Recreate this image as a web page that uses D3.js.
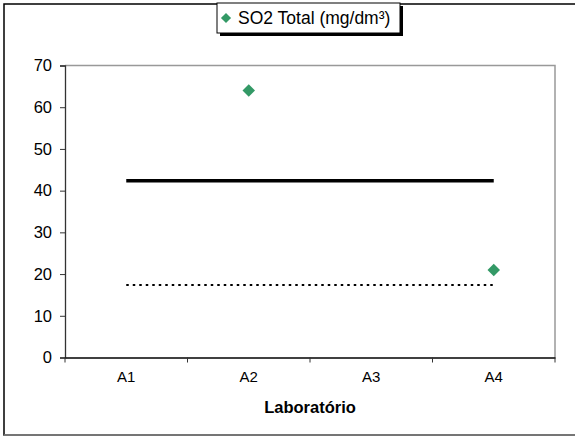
<!DOCTYPE html>
<html><head><meta charset="utf-8">
<script src="https://cdn.jsdelivr.net/npm/d3@7"></script>
<style>body{margin:0;background:#fff}svg{display:block;font-family:"Liberation Sans",Arial,sans-serif}</style>
</head><body><svg id="c" width="575" height="436"></svg>
<script>
const categories = ["A1","A2","A3","A4"];
const so2Values = [null, 64.0, null, 21.0];
const upperLimit = [42.4, 42.4, 42.4, 42.4];
const lowerLimit = [17.4, 17.4, 17.4, 17.4];
const yTicks = [0,10,20,30,40,50,60,70];
const seriesName = "SO2 Total (mg/dm³)";
const xTitle = "Laboratório";

const FF = "Liberation Sans, Arial, sans-serif";
const svg = d3.select("#c");
const L = 65, R = 555, T = 65.5, B = 357.5;
// outer frame
svg.append("rect").attr("x",4).attr("y",4).attr("width",600).attr("height",431)
  .attr("fill","#fff").attr("stroke","#000").attr("stroke-width",1.5);
svg.append("line").attr("x1",4).attr("x2",600).attr("y1",435).attr("y2",435).attr("stroke","#888").attr("stroke-width",1.5);

const x = d3.scaleBand().domain(categories).range([L,R]);
const y = d3.scaleLinear().domain([0,70]).range([B,T]);

// plot area border (gray)
svg.append("path").attr("d",`M${L},${T}H${R}V${B}`).attr("fill","none").attr("stroke","#999").attr("stroke-width",1.5);

// y axis
const ya = svg.append("g").attr("transform",`translate(${L},0)`)
  .call(d3.axisLeft(y).tickValues(yTicks).tickSize(5).tickPadding(8));
ya.select(".domain").attr("stroke","#333").attr("stroke-width",1.3);
ya.selectAll(".tick line").attr("stroke","#333");
ya.selectAll("text").attr("font-size",16.5).attr("fill","#000").attr("font-family",FF);

// x axis
const xa = svg.append("g").attr("transform",`translate(0,${B})`)
  .call(d3.axisBottom(x).tickSize(0).tickPadding(14));
xa.select(".domain").attr("stroke","#000").attr("stroke-width",1.5);
xa.selectAll("text").attr("font-size",15).attr("fill","#000").attr("font-family",FF);
const bounds = categories.map(c=>x(c)).concat([R]);
svg.append("g").selectAll("line").data(bounds).join("line")
  .attr("x1",d=>d).attr("x2",d=>d).attr("y1",B).attr("y2",B+5).attr("stroke","#333");

const cx = c => x(c) + x.bandwidth()/2;
// limit lines
svg.append("path").datum(upperLimit).attr("fill","none").attr("stroke","#000").attr("stroke-width",3.5)
  .attr("d", d3.line().x((d,i)=>cx(categories[i])).y(d=>y(d)));
svg.append("path").datum(lowerLimit).attr("fill","none").attr("stroke","#000").attr("stroke-width",2)
  .attr("stroke-dasharray","2.5,4")
  .attr("d", d3.line().x((d,i)=>cx(categories[i])).y(d=>y(d)));

// points
const sym = d3.symbol().type(d3.symbolDiamond2).size(100);
svg.append("g").selectAll("path").data(so2Values.map((v,i)=>({c:categories[i],v})).filter(d=>d.v!=null))
  .join("path").attr("d",sym).attr("transform",d=>`translate(${cx(d.c)},${y(d.v)})`).attr("fill","#339966");

// x title
svg.append("text").attr("x",(L+R)/2).attr("y",413).attr("text-anchor","middle")
  .attr("font-size",16.5).attr("font-weight","bold").attr("font-family",FF).text(xTitle);

// legend
const lg = svg.append("g");
lg.append("rect").attr("x",220).attr("y",6).attr("width",183).attr("height",30).attr("fill","#000");
lg.append("rect").attr("x",217).attr("y",3).attr("width",183).attr("height",30).attr("fill","#fff").attr("stroke","#000").attr("stroke-width",1);
lg.append("path").attr("d",d3.symbol().type(d3.symbolDiamond2).size(65)).attr("transform","translate(226,18)").attr("fill","#339966");
lg.append("text").attr("x",238).attr("y",24).attr("font-size",17.5).attr("font-family",FF).text(seriesName);
</script></body></html>
